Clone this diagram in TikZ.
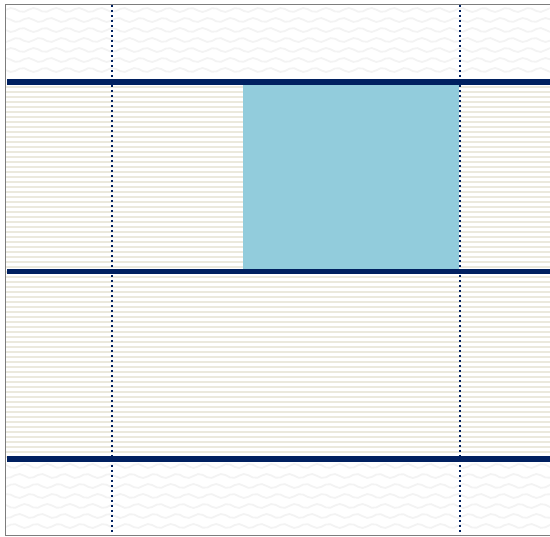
\documentclass[tikz,border=0pt]{standalone}
\usetikzlibrary{positioning}
\definecolor{rulenavy}{RGB}{0,32,96}
\definecolor{cellblue}{RGB}{146,204,220}
\definecolor{stripebeige}{RGB}{235,233,221}
\definecolor{framegray}{RGB}{125,125,125}
\definecolor{wavegray}{RGB}{243,243,243}
\newcommand{\waveband}[2]{% top, bottom  (faint wavy texture)
  \foreach \wy in {#1,...,#2}
    \draw[wave] plot[domain=6:550,samples=120] (\x,{\wy+2*sin(\x*16+\wy*9)});}
\newcommand{\navyrule}[1]{\draw[rule] (7,#1) -- (550,#1);}% thick navy rule at y

\begin{document}
\begin{tikzpicture}[x=1pt,y=-1pt,
  rule/.style={rulenavy,line width=5.5pt},
  guide/.style={rulenavy,line width=2.2pt,dash pattern=on 2.3pt off 2.7pt},
  stripe/.style={stripebeige,line width=2.4pt},
  wave/.style={wavegray,line width=1.8pt}]
  \useasboundingbox (0,0) rectangle (550,537);
  % ---- textured bands, top and bottom ----
  \waveband{10,20}{76}
  \waveband{466,476}{530}
  % ---- striped middle ----
  \foreach \sy in {87,92,...,457}
    \draw[stripe] (6,\sy) -- (550,\sy);
  % highlighted cell
  \fill[cellblue] (243,85) coordinate (cellnw) rectangle (459,269) coordinate (cellse);
  % ---- thick rules ----
  \navyrule{82}
  \navyrule{271.5}
  \navyrule{459}
  % ---- dotted guides ----
  \coordinate (g1top) at (112,5);   \coordinate (g1bot) at (112,535);
  \coordinate (g2top) at (459.8,5); \coordinate (g2bot) at (459.8,535);
  \draw[guide] (g1top) -- (g1bot);
  \draw[guide] (g2top) -- (g2bot);
  % frame
  \draw[framegray,line width=1pt] (550,4.5) -- (5.5,4.5) -- (5.5,535.5) -- (550,535.5);
\end{tikzpicture}
\end{document}
